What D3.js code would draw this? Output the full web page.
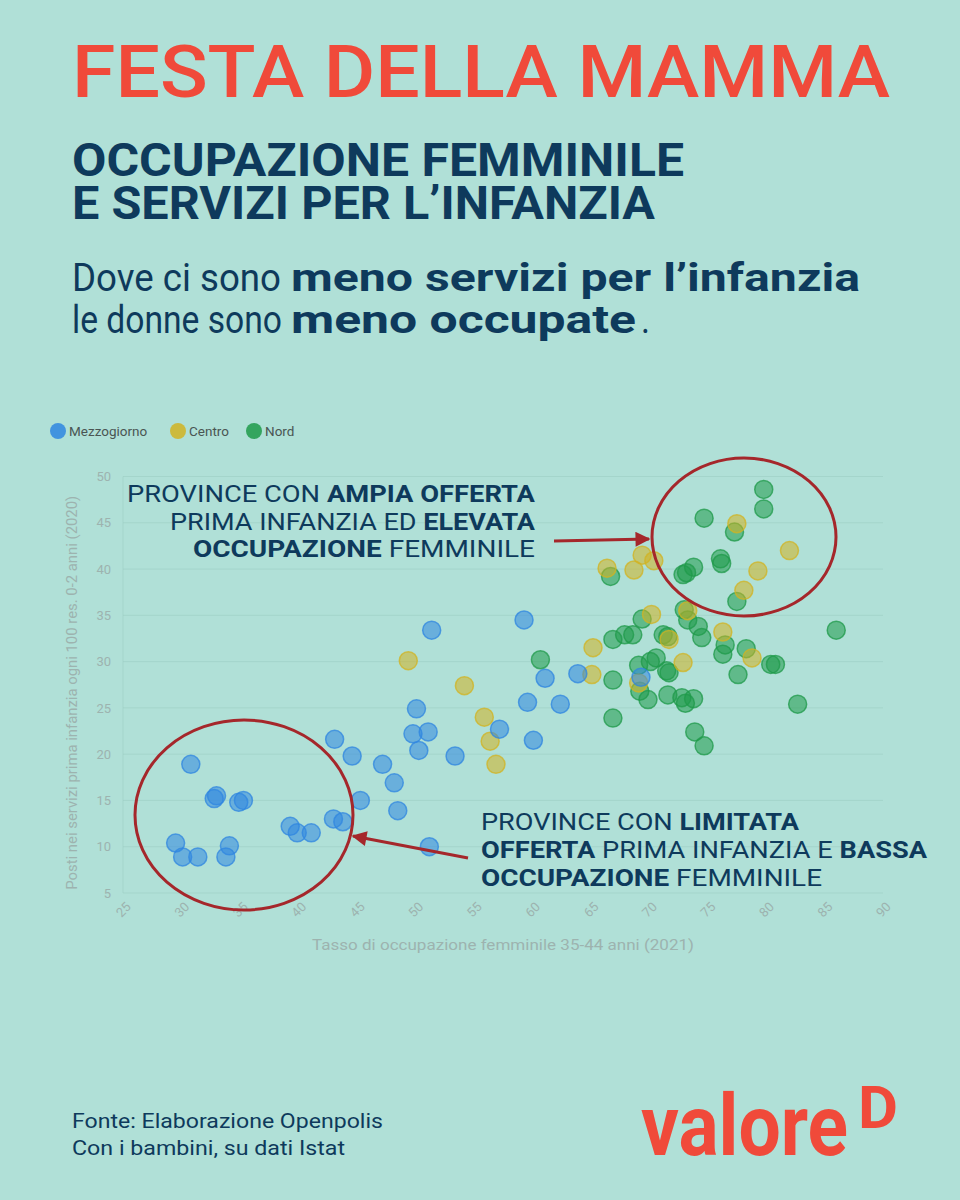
<!DOCTYPE html>
<html><head><meta charset="utf-8">
<script src="https://cdn.jsdelivr.net/npm/d3@7"></script>
<style>html,body{margin:0;padding:0;background:#b0e0d7;}svg{display:block;}</style>
</head><body>
<div id="chart"></div>
<script>
// ---- DATA ----
const seriesNames = ["Mezzogiorno", "Centro", "Nord"];
const seriesColors = ["#2f86e0", "#d1b322", "#1f9a4a"];
const xTicks = [25, 30, 35, 40, 45, 50, 55, 60, 65, 70, 75, 80, 85, 90];
const yTicks = [5, 10, 15, 20, 25, 30, 35, 40, 45, 50];
// [tasso occupazione femminile 35-44, posti prima infanzia ogni 100 res.]
const mezzogiorno = [
  [30.8,18.9],[33.0,15.5],[32.8,15.2],[35.3,15.0],[34.9,14.8],[29.5,10.4],[30.1,8.9],[31.4,8.9],
  [34.1,10.1],[33.8,8.9],[39.3,12.2],[39.9,11.5],[41.1,11.5],[43.0,13.0],[43.8,12.7],[43.1,21.6],
  [44.6,19.8],[45.3,15.0],[47.2,18.9],[48.2,16.9],[48.5,13.9],[49.8,22.2],[51.1,22.4],[50.3,20.4],
  [51.2,10.0],[51.4,33.4],[50.1,24.9],[53.4,19.8],[57.2,22.7],[60.1,21.5],[59.6,25.6],[62.4,25.4],
  [61.1,28.2],[59.3,34.5],[63.9,28.7],[69.3,28.3]
];
const centro = [
  [49.4,30.1],[54.2,27.4],[55.9,24.0],[56.4,21.4],[56.9,18.9],[65.2,31.5],[65.1,28.6],[66.4,40.1],
  [68.7,39.9],[69.4,41.5],[70.4,40.9],[70.2,35.1],[71.7,32.4],[73.3,35.5],[72.9,29.9],[69.1,27.7],
  [76.3,33.2],[78.8,30.4],[77.5,44.9],[82.0,42.0],[79.3,39.8],[78.1,37.7]
];
const nord = [
  [60.7,30.2],[66.9,23.9],[66.9,28.0],[66.9,32.4],[67.9,32.9],[68.6,32.9],[66.7,39.2],[69.4,34.6],
  [71.2,32.9],[71.6,32.7],[69.1,29.6],[70.1,30.0],[70.6,30.4],[71.5,29.0],[71.7,28.8],[69.2,26.8],
  [69.9,25.9],[71.6,26.4],[72.8,26.1],[73.8,26.0],[73.1,25.5],[73.9,22.4],[74.7,20.9],[73.0,35.6],
  [73.3,34.5],[74.2,33.8],[74.5,32.6],[76.5,31.8],[76.3,30.8],[78.3,31.4],[80.4,29.7],[80.8,29.7],
  [77.6,28.6],[82.7,25.4],[86.0,33.4],[77.5,36.5],[76.1,41.1],[76.2,40.6],[73.8,40.2],[72.9,39.4],
  [73.2,39.6],[74.7,45.5],[77.3,44.0],[79.8,48.6],[79.8,46.5]
];

// ---- LAYOUT ----
const W = 960, H = 1200;
const RED = "#f04a3a", NAVY = "#0e3a5c", DARKRED = "#a5272b", AXIS = "#9db3af";
const svg = d3.select("#chart").append("svg").attr("width", W).attr("height", H)
  .style("font-family", "Roboto, 'Noto Sans', sans-serif");
svg.append("rect").attr("width", W).attr("height", H).attr("fill", "#b0e0d7");

// Header
svg.append("text").attr("x", 72).attr("y", 97).attr("fill", RED)
  .attr("font-size", 72).attr("font-weight", 500)
  .attr("textLength", 818).attr("lengthAdjust", "spacingAndGlyphs")
  .text("FESTA DELLA MAMMA");
function subLine(yb, txt, w) {
  svg.append("text").attr("transform", `translate(72,${yb}) scale(1,1.28)`)
    .attr("fill", NAVY).attr("font-size", 36).attr("font-weight", 700)
    .attr("textLength", w).attr("lengthAdjust", "spacingAndGlyphs").text(txt);
}
subLine(176, "OCCUPAZIONE FEMMINILE", 612);
subLine(219, "E SERVIZI PER L\u2019INFANZIA", 583);

const desc = svg.append("text").attr("fill", NAVY).attr("font-size", 38);
function seg(x, y, txt, w, weight) {
  desc.append("tspan").attr("x", x).attr("y", y).attr("font-weight", weight)
    .attr("textLength", w).attr("lengthAdjust", "spacingAndGlyphs").text(txt);
}
seg(72, 291, "Dove ci sono", 209, 400);
seg(291, 291, "meno servizi per l\u2019infanzia", 569, 700);
seg(72, 333, "le donne sono", 210, 400);
seg(291, 333, "meno occupate", 345, 700);
seg(641, 333, ".", 9, 400);

// Legend
const legX = [58, 178, 254];
seriesNames.forEach((n, i) => {
  svg.append("circle").attr("cx", legX[i]).attr("cy", 431).attr("r", 8).attr("fill", seriesColors[i]).attr("opacity", 0.85);
  svg.append("text").attr("x", legX[i] + 11).attr("y", 436).attr("font-size", 13.5)
    .attr("fill", "#4a5553").text(n);
});

// Scales
const x = d3.scaleLinear().domain([25, 90]).range([123, 883]);
const y = d3.scaleLinear().domain([5, 50]).range([893, 476.5]);

// Grid
const g = svg.append("g");
g.selectAll("line.grid").data(yTicks).join("line").attr("class", "grid")
  .attr("x1", x(25)).attr("x2", x(90)).attr("y1", d => y(d)).attr("y2", d => y(d))
  .attr("stroke", "#9ccdc3").attr("stroke-width", 1).attr("opacity", 0.55);
g.append("line").attr("x1", x(25)).attr("x2", x(25)).attr("y1", y(50)).attr("y2", y(5))
  .attr("stroke", "#9ccdc3").attr("opacity", 0.55);

// Axes
const ya = svg.append("g").attr("transform", `translate(${x(25) - 12},0)`)
  .call(d3.axisLeft(y).tickValues(yTicks).tickSize(0).tickPadding(0));
ya.select(".domain").remove();
ya.selectAll("text").attr("fill", AXIS).attr("font-size", 13).style("font-family", "Roboto, sans-serif");

const xa = svg.append("g").attr("transform", `translate(0,${y(5) + 10})`)
  .call(d3.axisBottom(x).tickValues(xTicks).tickSize(0).tickPadding(0));
xa.select(".domain").remove();
xa.selectAll("text").attr("fill", AXIS).attr("font-size", 13).style("font-family", "Roboto, sans-serif")
  .attr("text-anchor", "end").attr("dy", "0.7em").attr("dx", "0.2em")
  .attr("transform", "rotate(-45)");

svg.append("text").attr("transform", `translate(77,${(y(50) + y(5)) / 2 + 8}) rotate(-90)`)
  .attr("text-anchor", "middle").attr("fill", AXIS).attr("font-size", 14.5)
  .attr("textLength", 394).attr("lengthAdjust", "spacingAndGlyphs")
  .text("Posti nei servizi prima infanzia ogni 100 res. 0-2 anni (2020)");
svg.append("text").attr("x", 503).attr("y", 950).attr("text-anchor", "middle")
  .attr("fill", AXIS).attr("font-size", 15)
  .attr("textLength", 382).attr("lengthAdjust", "spacingAndGlyphs")
  .text("Tasso di occupazione femminile 35-44 anni (2021)");

// Points
const series = [[nord, 2], [centro, 1], [mezzogiorno, 0]];
series.forEach(([data, i]) => {
  svg.append("g").selectAll("circle").data(data).join("circle")
    .attr("cx", d => x(d[0])).attr("cy", d => y(d[1])).attr("r", 9)
    .attr("fill", seriesColors[i]).attr("fill-opacity", 0.55)
    .attr("stroke", seriesColors[i]).attr("stroke-opacity", 0.75).attr("stroke-width", 1.5);
});

// Annotations
const defs = svg.append("defs");
defs.append("marker").attr("id", "ah").attr("viewBox", "0 0 10 10").attr("refX", 9).attr("refY", 5)
  .attr("markerWidth", 6).attr("markerHeight", 5).attr("markerUnits", "strokeWidth")
  .attr("orient", "auto")
  .append("path").attr("d", "M0,0 L10,5 L0,10 Z").attr("fill", DARKRED);

svg.append("ellipse").attr("cx", 744).attr("cy", 537).attr("rx", 92).attr("ry", 79)
  .attr("fill", "none").attr("stroke", DARKRED).attr("stroke-width", 3);
svg.append("ellipse").attr("cx", 244).attr("cy", 815).attr("rx", 109).attr("ry", 95)
  .attr("fill", "none").attr("stroke", DARKRED).attr("stroke-width", 3);
svg.append("line").attr("x1", 554).attr("y1", 541).attr("x2", 649).attr("y2", 539)
  .attr("stroke", DARKRED).attr("stroke-width", 3).attr("marker-end", "url(#ah)");
svg.append("line").attr("x1", 468).attr("y1", 858).attr("x2", 353).attr("y2", 836)
  .attr("stroke", DARKRED).attr("stroke-width", 3).attr("marker-end", "url(#ah)");

function annLine(xp, yp, parts, w) {
  const t = svg.append("text").attr("x", xp).attr("y", yp).attr("fill", NAVY)
    .attr("font-size", 24).attr("textLength", w).attr("lengthAdjust", "spacingAndGlyphs");
  parts.forEach(([s, b]) => t.append("tspan").attr("font-weight", b ? 700 : 400).text(s));
}
annLine(127, 502, [["PROVINCE CON ", 0], ["AMPIA OFFERTA", 1]], 408);
annLine(170, 530, [["PRIMA INFANZIA ED ", 0], ["ELEVATA", 1]], 365);
annLine(193, 557, [["OCCUPAZIONE", 1], [" FEMMINILE", 0]], 342);
annLine(481, 830, [["PROVINCE CON ", 0], ["LIMITATA", 1]], 318);
annLine(481, 858, [["OFFERTA", 1], [" PRIMA INFANZIA E ", 0], ["BASSA", 1]], 446);
annLine(481, 886, [["OCCUPAZIONE", 1], [" FEMMINILE", 0]], 341);

// Footer
const foot = svg.append("text").attr("fill", NAVY).attr("font-size", 20);
foot.append("tspan").attr("x", 72).attr("y", 1128)
  .attr("textLength", 311).attr("lengthAdjust", "spacingAndGlyphs").text("Fonte: Elaborazione Openpolis");
foot.append("tspan").attr("x", 72).attr("y", 1155)
  .attr("textLength", 273).attr("lengthAdjust", "spacingAndGlyphs").text("Con i bambini, su dati Istat");

// Logo
svg.append("text").attr("transform", "translate(641,1155) scale(1,1.42)")
  .attr("fill", RED).attr("font-weight", 700).attr("font-size", 60)
  .attr("textLength", 207).attr("lengthAdjust", "spacingAndGlyphs").text("valore");
svg.append("text").attr("x", 858).attr("y", 1128)
  .attr("fill", RED).attr("font-weight", 700).attr("font-size", 60)
  .attr("textLength", 40).attr("lengthAdjust", "spacingAndGlyphs").text("D");
</script>
</body></html>
